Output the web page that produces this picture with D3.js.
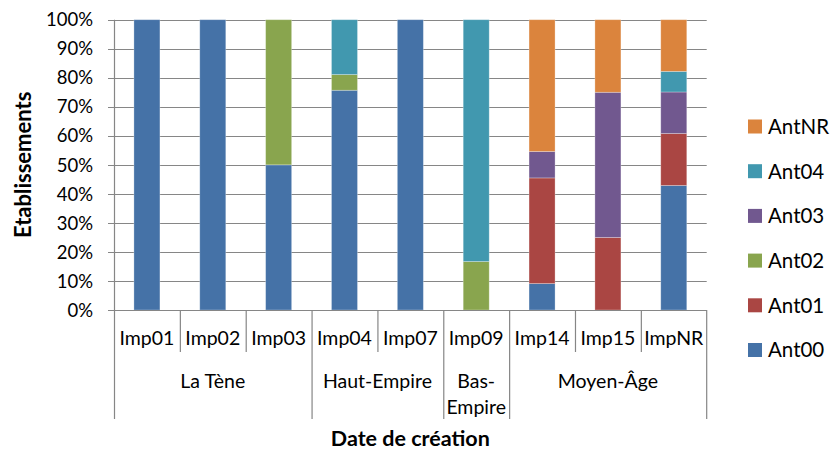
<!DOCTYPE html>
<html>
<head>
<meta charset="utf-8">
<script src="https://cdn.jsdelivr.net/npm/d3@7"></script>
<style>
  html, body { margin: 0; padding: 0; background: #fff; }
  svg { display: block; font-family: Lato, "Open Sans", sans-serif; }
</style>
</head>
<body>
<svg id="chart" width="832" height="450"></svg>
<script>
// ---- data ----
const categories = ["Imp01","Imp02","Imp03","Imp04","Imp07","Imp09","Imp14","Imp15","ImpNR"];
const groups = ["La Tène","La Tène","La Tène","Haut-Empire","Haut-Empire","Bas-Empire","Moyen-Âge","Moyen-Âge","Moyen-Âge"];
const seriesNames = ["Ant00","Ant01","Ant02","Ant03","Ant04","AntNR"];
const Ant00 = [100, 100, 50, 75.7, 100, 0,    9.1,  0,  42.9];
const Ant01 = [0,   0,   0,  0,    0,   0,    36.4, 25, 17.9];
const Ant02 = [0,   0,   50, 5.4,  0,   16.7, 0,    0,  0];
const Ant03 = [0,   0,   0,  0,    0,   0,    9.1,  50, 14.3];
const Ant04 = [0,   0,   0,  18.9, 0,   83.3, 0,    0,  7.1];
const AntNR = [0,   0,   0,  0,    0,   0,    45.4, 25, 17.8];
const yTicks = [0,0.1,0.2,0.3,0.4,0.5,0.6,0.7,0.8,0.9,1];
const colors = ["#4572A7","#AA4643","#89A54E","#71588F","#4198AF","#DB843D"];

const seriesValues = [Ant00, Ant01, Ant02, Ant03, Ant04, AntNR];
const table = categories.map((c, i) => {
  const row = { cat: c };
  seriesNames.forEach((s, j) => row[s] = seriesValues[j][i]);
  return row;
});

// ---- layout ----
const svg = d3.select("#chart");
const pL = 114, pR = 706.7, pT = 19.7, pB = 310;
const gridColor = "#868686";
const labelSize = 19.5, tickSize = 18.5;

const x = d3.scaleBand().domain(categories).range([pL, pR]).paddingInner(0.605).paddingOuter(0.3025);
const xs = d3.scaleBand().domain(categories).range([pL, pR]).padding(0);
const y = d3.scaleLinear().domain([0, 1]).range([pB, pT]);

const stack = d3.stack().keys(seriesNames).offset(d3.stackOffsetExpand);
const stacked = stack(table);

// gridlines
svg.append("g").selectAll("line").data(yTicks).join("line")
  .attr("x1", pL - 6).attr("x2", pR)
  .attr("y1", d => Math.round(y(d)) + 0.5).attr("y2", d => Math.round(y(d)) + 0.5)
  .attr("stroke", gridColor).attr("stroke-width", 1.2);

// y axis line
svg.append("line").attr("x1", pL + 0.5).attr("x2", pL + 0.5)
  .attr("y1", y(1)).attr("y2", y(0)).attr("stroke", gridColor).attr("stroke-width", 1.2);

// y tick labels
svg.append("g").selectAll("text").data(yTicks).join("text")
  .attr("x", pL - 21).attr("y", d => y(d)).attr("dy", "0.36em")
  .attr("text-anchor", "end").attr("font-size", tickSize).attr("fill", "#000")
  .text(d => d3.format(".0%")(d));

// bars
svg.append("g").selectAll("g").data(stacked).join("g")
  .attr("fill", (d, i) => colors[i])
  .selectAll("rect").data(d => d.filter(s => s[1] - s[0] > 0)).join("rect")
  .attr("x", d => x(d.data.cat)).attr("width", x.bandwidth())
  .attr("y", d => y(d[1])).attr("height", d => Math.max(0, y(d[0]) - y(d[1])))
  .attr("stroke", "rgba(255,255,255,0.35)").attr("stroke-width", 0.8);

// x axis baseline
svg.append("line").attr("x1", pL).attr("x2", pR)
  .attr("y1", pB + 0.5).attr("y2", pB + 0.5).attr("stroke", gridColor).attr("stroke-width", 1.2);

// category separators and labels
const sepG = svg.append("g");
categories.forEach((c, i) => {
  const xl = xs(c);
  const isGroupStart = i === 0 || groups[i] !== groups[i - 1];
  sepG.append("line").attr("x1", xl + 0.5).attr("x2", xl + 0.5)
    .attr("y1", pB).attr("y2", isGroupStart ? 419 : 352)
    .attr("stroke", gridColor).attr("stroke-width", 1.2);
});
sepG.append("line").attr("x1", pR).attr("x2", pR)
  .attr("y1", pB).attr("y2", 419).attr("stroke", gridColor).attr("stroke-width", 1.2);

svg.append("g").selectAll("text").data(categories).join("text")
  .attr("x", d => xs(d) + xs.bandwidth() / 2).attr("y", 338).attr("dy", "0.36em")
  .attr("text-anchor", "middle").attr("font-size", labelSize).attr("fill", "#000")
  .text(d => d);

// group labels
const groupSpans = [];
groups.forEach((g, i) => {
  const last = groupSpans[groupSpans.length - 1];
  if (last && last.name === g) last.end = i;
  else groupSpans.push({ name: g, start: i, end: i });
});
const gl = svg.append("g");
groupSpans.forEach(s => {
  const x0 = xs(categories[s.start]), x1 = xs(categories[s.end]) + xs.bandwidth();
  const cx = (x0 + x1) / 2;
  const t = gl.append("text").attr("x", cx).attr("y", 381).attr("dy", "0.36em")
    .attr("text-anchor", "middle").attr("font-size", labelSize).attr("fill", "#000").text(s.name);
  if (t.node().getComputedTextLength() > x1 - x0 - 4 && s.name.includes("-")) {
    const k = s.name.indexOf("-") + 1;
    t.text(null);
    t.append("tspan").attr("x", cx).text(s.name.slice(0, k));
    t.append("tspan").attr("x", cx).attr("dy", 26).text(s.name.slice(k));
  }
});

// axis titles
svg.append("text").attr("transform", `translate(23,${(pT + pB) / 2}) rotate(-90)`)
  .attr("text-anchor", "middle").attr("dy", "0.36em")
  .attr("font-size", 22).attr("font-weight", "bold").attr("fill", "#000").text("Etablissements");
svg.append("text").attr("x", (pL + pR) / 2).attr("y", 438).attr("dy", "0.36em")
  .attr("text-anchor", "middle").attr("font-size", 21.5).attr("font-weight", "bold").attr("fill", "#000")
  .text("Date de création");

// legend (reverse order)
const legendItems = seriesNames.map((s, i) => ({ name: s, color: colors[i] })).reverse();
const lg = svg.append("g").selectAll("g").data(legendItems).join("g")
  .attr("transform", (d, i) => `translate(748,${126.5 + i * 44.7})`);
lg.append("rect").attr("x", 0).attr("y", -7).attr("width", 14).attr("height", 14).attr("fill", d => d.color);
lg.append("text").attr("x", 20).attr("dy", "0.36em").attr("font-size", 20.5).attr("fill", "#000").text(d => d.name);
</script>
</body>
</html>
